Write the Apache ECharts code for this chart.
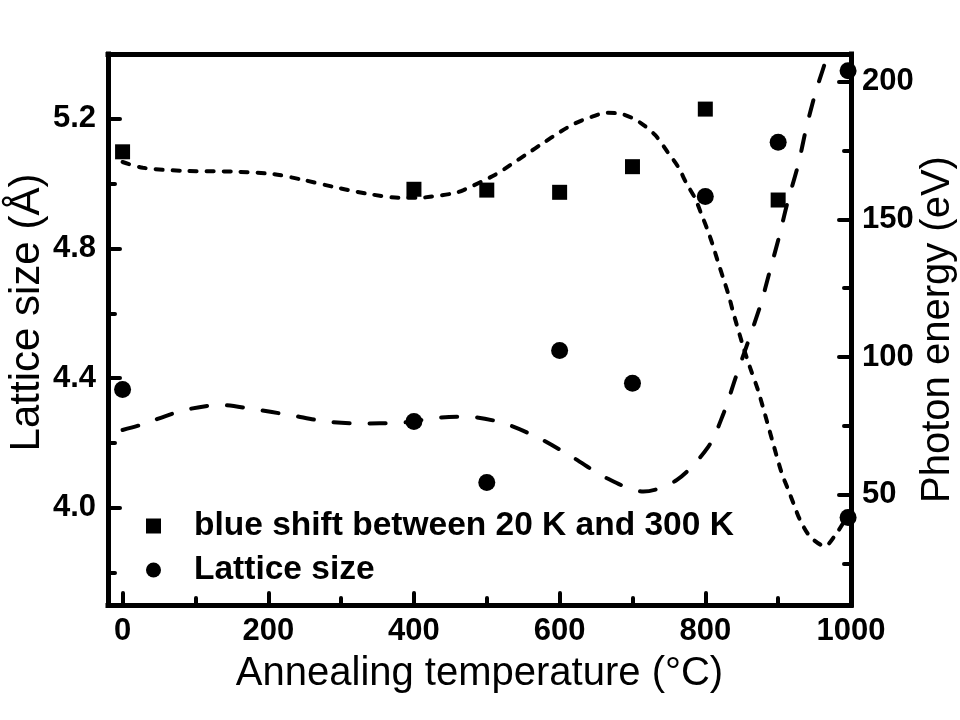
<!DOCTYPE html>
<html><head><meta charset="utf-8">
<script src="https://cdn.jsdelivr.net/npm/echarts@6/dist/echarts.min.js"></script>
<style>html,body{margin:0;padding:0;background:#fff}#chart{width:960px;height:720px}</style>
</head><body><div id="chart"></div>
<script>
// Measured points
const temperatures = [0, 400, 500, 600, 700, 800, 900];
const blueShift = [174.5, 160.9, 160.6, 159.8, 169.1, 190.0, 157.0];
const latticeSize = [4.365, 4.266, 4.078, 4.485, 4.384, 4.960, 5.128];
// points drawn at the right frame edge (both as circles)
const edgeTemperature = 996;
const edgeBlueShift = 41.8;
const edgeLattice = 5.348;

// Fitted curves
const blueFitX = [0, 28, 83, 152, 207, 248, 289, 340, 381, 408, 422, 454, 468, 511, 534, 555, 578, 600, 621, 644, 665, 687, 709, 731, 748, 763, 774, 786, 795, 804, 811, 818, 825, 832, 838, 852, 861, 873, 893, 905, 914, 921, 930, 944, 964, 980, 994];
const blueFitY = [170.8, 168.7, 167.6, 167.3, 166.4, 164.3, 161.8, 159.1, 157.8, 157.8, 158.2, 159.4, 160.6, 166.1, 170.0, 173.7, 177.8, 181.6, 184.8, 187.2, 188.7, 188.1, 185.4, 180.6, 174.5, 168.9, 163.1, 157.6, 151.6, 145.5, 140.0, 134.0, 128.3, 122.5, 116.5, 103.8, 96.5, 87.4, 68.7, 57.8, 51.7, 46.9, 40.9, 34.8, 31.4, 36.0, 41.8];
const latticeFitX = [0, 24, 83, 134, 180, 230, 280, 330, 376, 400, 422, 472, 520, 568, 617, 665, 715, 761, 804, 825, 842, 875, 889, 902, 912, 928, 938, 951, 964, 976];
const latticeFitY = [4.24, 4.255, 4.30, 4.317, 4.304, 4.286, 4.266, 4.26, 4.262, 4.266, 4.276, 4.281, 4.263, 4.219, 4.157, 4.091, 4.05, 4.086, 4.188, 4.291, 4.404, 4.62, 4.734, 4.842, 4.935, 5.063, 5.166, 5.279, 5.371, 5.47];

// Tick labels
const xTickLabels = ['0', '200', '400', '600', '800', '1000'];
const leftTickLabels = ['4.0', '4.4', '4.8', '5.2'];
const rightTickLabels = ['50', '100', '150', '200'];

const seriesNames = ['blue shift between 20 K and 300 K', 'Lattice size'];
const axisNames = ['Annealing temperature (\u00B0C)', 'Lattice size (\u00C5)', 'Photon energy (eV)'];

const FONT = "'Liberation Sans', Arial, sans-serif";
const BLACK = '#000';

const zip = (xs, ys) => xs.map((x, i) => [x, ys[i]]);

const tickLabelStyle = { color: BLACK, fontFamily: FONT, fontWeight: 'bold', fontSize: 31 };
const nameStyle = { color: BLACK, fontFamily: FONT, fontWeight: 'normal', fontSize: 40 };
const frameLine = { show: true, onZero: false, lineStyle: { color: BLACK, width: 5, cap: 'square' } };
const majorTick = { show: true, inside: true, length: 12, lineStyle: { color: BLACK, width: 4, cap: 'round' } };
const minorTick = { show: true, inside: true, length: 7, lineStyle: { color: BLACK, width: 4, cap: 'round' } };

const xMin = -20, xMax = 1000;
const yLeftMin = 3.7, yLeftMax = 5.4;
const yRightMin = 10, yRightMax = 210;

const option = {
  backgroundColor: '#fff',
  animation: false,
  grid: { left: 108, right: 109, top: 54, bottom: 115, containLabel: false, outerBoundsMode: 'none' },
  legend: {
    data: seriesNames,
    orient: 'vertical',
    left: 146, top: 509,
    padding: 0,
    itemGap: 10,
    itemWidth: 15, itemHeight: 15,
    textStyle: { color: BLACK, fontFamily: FONT, fontWeight: 'bold', fontSize: 33.5, lineHeight: 34, padding: [0, 0, 0, 28] }
  },
  xAxis: [
    {
      type: 'value', position: 'bottom', min: xMin, max: xMax, minInterval: 200, maxInterval: 200, z: 10,
      axisLine: frameLine, axisTick: majorTick, splitLine: { show: false },
      axisLabel: Object.assign({ margin: 11, formatter: v => xTickLabels.includes(String(Math.round(v))) && Math.abs(v - Math.round(v)) < 1e-6 ? String(Math.round(v)) : '' }, tickLabelStyle),
      name: axisNames[0], nameLocation: 'middle', nameGap: 49, nameTextStyle: nameStyle
    },
    {
      type: 'value', position: 'bottom', min: xMin, max: xMax, minInterval: 100, maxInterval: 100, z: 10,
      axisLine: { show: false, onZero: false }, axisTick: minorTick, axisLabel: { show: false }, splitLine: { show: false }
    },
    {
      type: 'value', position: 'top', min: xMin, max: xMax, z: 10,
      axisLine: frameLine, axisTick: { show: false }, axisLabel: { show: false }, splitLine: { show: false }
    }
  ],
  yAxis: [
    {
      type: 'value', position: 'left', min: yLeftMin, max: yLeftMax, minInterval: 0.4, maxInterval: 0.4, z: 10,
      axisLine: frameLine, axisTick: majorTick, splitLine: { show: false },
      axisLabel: Object.assign({ margin: 12, formatter: v => { const s = (Math.round(v * 10) / 10).toFixed(1); return (leftTickLabels.includes(s) && Math.abs(v - parseFloat(s)) < 1e-6) ? s : ''; } }, tickLabelStyle),
      name: axisNames[1], nameLocation: 'middle', nameGap: 60, nameMoveOverlap: false,
      nameTextStyle: Object.assign({}, nameStyle, { fontSize: 42, padding: [0, 0, 0, 34] })
    },
    {
      type: 'value', position: 'left', min: yLeftMin, max: yLeftMax, minInterval: 0.2, maxInterval: 0.2, z: 10,
      axisLine: { show: false, onZero: false }, axisTick: minorTick, axisLabel: { show: false }, splitLine: { show: false }
    },
    {
      type: 'value', position: 'right', min: yRightMin, max: yRightMax, minInterval: 50, maxInterval: 50, z: 10,
      axisLine: frameLine, axisTick: majorTick, splitLine: { show: false },
      axisLabel: Object.assign({ margin: 11, formatter: v => { const s = String(Math.round(v)); return (rightTickLabels.includes(s) && Math.abs(v - Math.round(v)) < 1e-6) ? s : ''; } }, tickLabelStyle),
      name: axisNames[2], nameLocation: 'middle', nameGap: 67, nameMoveOverlap: false, nameTextStyle: nameStyle
    },
    {
      type: 'value', position: 'right', min: yRightMin, max: yRightMax, minInterval: 25, maxInterval: 25, z: 10,
      axisLine: { show: false, onZero: false }, axisTick: minorTick, axisLabel: { show: false }, splitLine: { show: false }
    }
  ],
  series: [
    {
      type: 'line', xAxisIndex: 0, yAxisIndex: 2, data: zip(blueFitX, blueFitY),
      showSymbol: false, smooth: 0.3, clip: true, silent: true,
      lineStyle: { color: BLACK, width: 4, type: [7, 10], cap: 'round', opacity: 1 }
    },
    {
      type: 'line', xAxisIndex: 0, yAxisIndex: 0, data: zip(latticeFitX, latticeFitY),
      showSymbol: false, smooth: 0.3, clip: true, silent: true,
      lineStyle: { color: BLACK, width: 4, type: [16, 20], cap: 'round', opacity: 1 }
    },
    {
      name: seriesNames[0], type: 'scatter', xAxisIndex: 0, yAxisIndex: 2,
      symbol: 'rect', symbolSize: 15, itemStyle: { color: BLACK, opacity: 1 },
      data: zip(temperatures, blueShift).concat([{ value: [edgeTemperature, edgeBlueShift], symbol: 'circle', symbolSize: 17 }])
    },
    {
      name: seriesNames[1], type: 'scatter', xAxisIndex: 0, yAxisIndex: 0,
      symbol: 'circle', symbolSize: 17, itemStyle: { color: BLACK, opacity: 1 },
      data: zip(temperatures, latticeSize).concat([[edgeTemperature, edgeLattice]])
    }
  ]
};

const chart = echarts.init(document.getElementById('chart'), null, { renderer: 'canvas' });
chart.setOption(option);
</script>
</body></html>
